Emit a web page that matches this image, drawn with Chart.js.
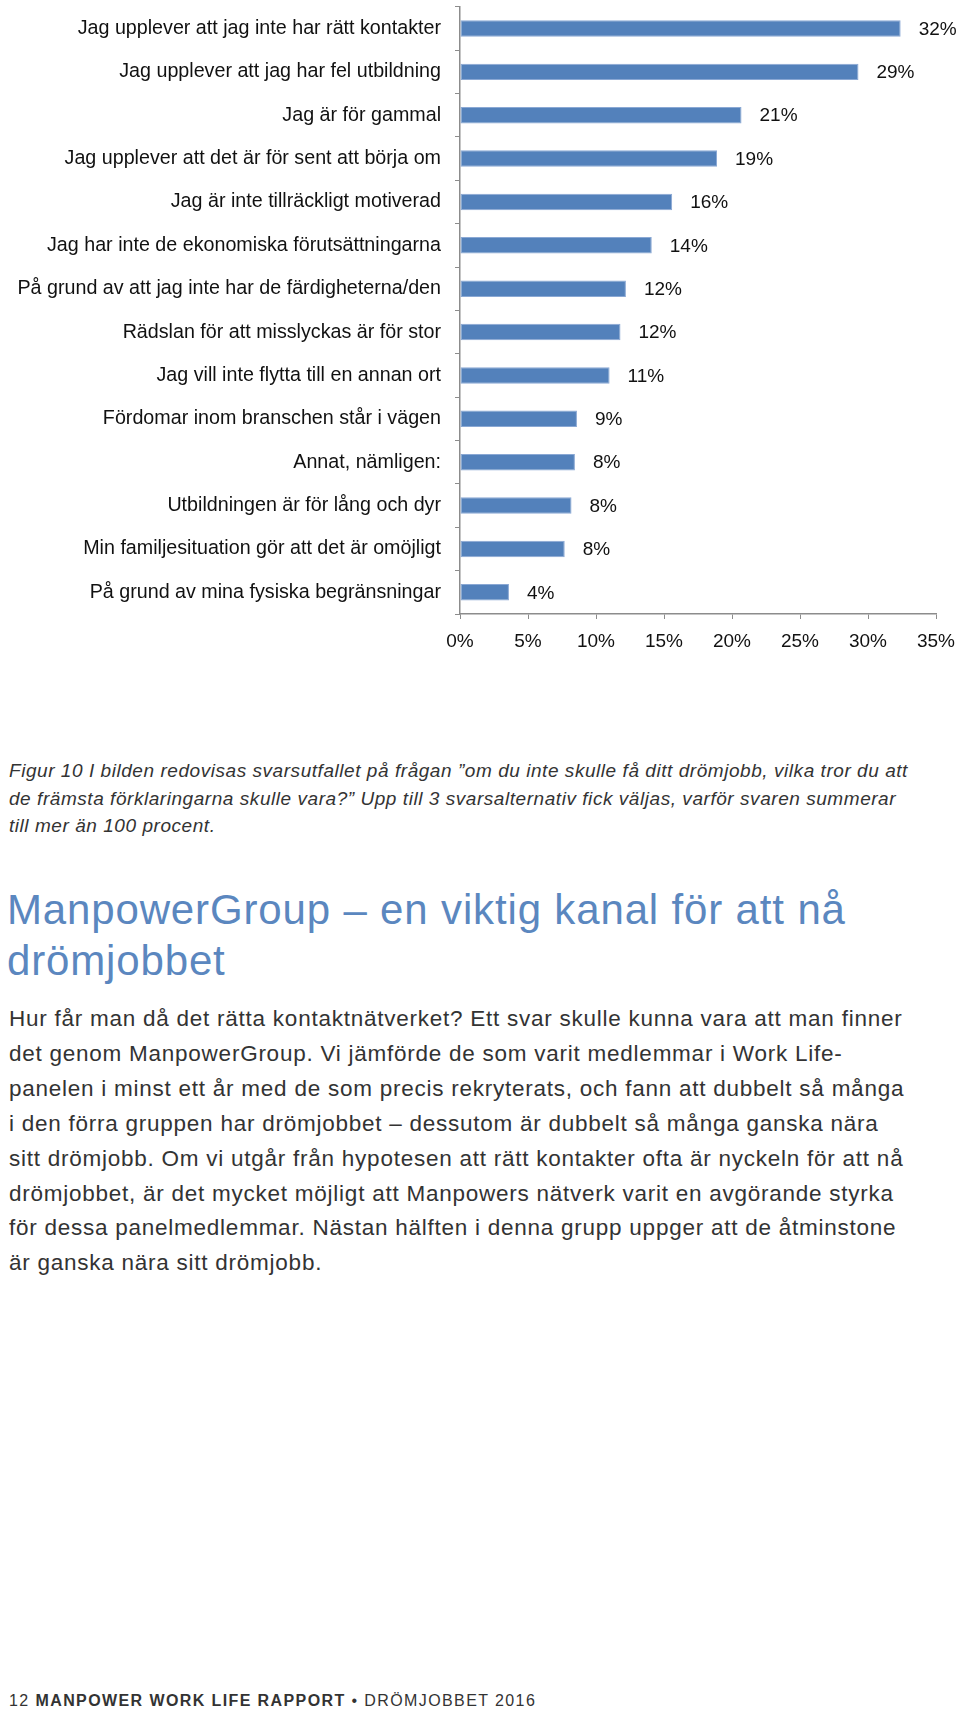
<!DOCTYPE html>
<html>
<head>
<meta charset="utf-8">
<script src="https://cdn.jsdelivr.net/npm/chart.js@4.4.1/dist/chart.umd.min.js"></script>
<style>
    body { margin: 0; background: #fff; font-family: "Liberation Sans", Arial, sans-serif; color: #333; }
    .page { position: relative; width: 960px; height: 1710px; overflow: hidden; }
    .chart-box { position: absolute; left: 0; top: -19px; width: 960px; height: 679px; }
    .caption { position: absolute; left: 9px; top: 757px; font-size: 19px; line-height: 27.5px; font-style: italic; color: #333; white-space: nowrap; letter-spacing: 0.55px; }
    .heading { position: absolute; left: 7px; top: 884px; font-size: 42px; line-height: 51px; color: #5b87bf; white-space: nowrap; letter-spacing: 0.85px; }
    .body-text { position: absolute; left: 9px; top: 1002px; font-size: 22.5px; line-height: 34.9px; color: #333; white-space: nowrap; letter-spacing: 0.75px; }
    .footer { position: absolute; left: 9px; top: 1691px; font-size: 16px; line-height: 20px; color: #333; letter-spacing: 1.4px; white-space: nowrap; }
    .footer b { font-weight: bold; }
</style>
</head>
<body>
<div class="page">
    <div class="chart-box"><canvas id="reasonChart"></canvas></div>

    <div class="caption">
        Figur 10 I bilden redovisas svarsutfallet på frågan ”om du inte skulle få ditt drömjobb, vilka tror du att<br>
        de främsta förklaringarna skulle vara?” Upp till 3 svarsalternativ fick väljas, varför svaren summerar<br>
        till mer än 100 procent.
    </div>

    <div class="heading">
        ManpowerGroup – en viktig kanal för att nå<br>
        drömjobbet
    </div>

    <div class="body-text">
        Hur får man då det rätta kontaktnätverket? Ett svar skulle kunna vara att man finner<br>
        det genom ManpowerGroup. Vi jämförde de som varit medlemmar i Work Life-<br>
        panelen i minst ett år med de som precis rekryterats, och fann att dubbelt så många<br>
        i den förra gruppen har drömjobbet – dessutom är dubbelt så många ganska nära<br>
        sitt drömjobb. Om vi utgår från hypotesen att rätt kontakter ofta är nyckeln för att nå<br>
        drömjobbet, är det mycket möjligt att Manpowers nätverk varit en avgörande styrka<br>
        för dessa panelmedlemmar. Nästan hälften i denna grupp uppger att de åtminstone<br>
        är ganska nära sitt drömjobb.
    </div>

    <div class="footer">12 <b>MANPOWER WORK LIFE RAPPORT</b> • DRÖMJOBBET 2016</div>
</div>

<script>
// Reasons, top to bottom as in the figure
const reasons = [
    'Jag upplever att jag inte har rätt kontakter',
    'Jag upplever att jag har fel utbildning',
    'Jag är för gammal',
    'Jag upplever att det är för sent att börja om',
    'Jag är inte tillräckligt motiverad',
    'Jag har inte de ekonomiska förutsättningarna',
    'På grund av att jag inte har de färdigheterna/den',
    'Rädslan för att misslyckas är för stor',
    'Jag vill inte flytta till en annan ort',
    'Fördomar inom branschen står i vägen',
    'Annat, nämligen:',
    'Utbildningen är för lång och dyr',
    'Min familjesituation gör att det är omöjligt',
    'På grund av mina fysiska begränsningar'
];

// Share of respondents (%)
const shares = [32.4, 29.3, 20.7, 18.9, 15.6, 14.1, 12.2, 11.8, 11.0, 8.6, 8.45, 8.2, 7.7, 3.6];

// x axis ticks
const xTicks = [0, 5, 10, 15, 20, 25, 30, 35];

const axisGrey = '#8c8c8c';
const fontFamily = '"Liberation Sans", Arial, sans-serif';

// draws "32%" etc. to the right of each bar
const valueLabels = {
    id: 'valueLabels',
    afterDatasetsDraw(chart) {
        const ctx = chart.ctx;
        const meta = chart.getDatasetMeta(0);
        ctx.save();
        ctx.font = '19px ' + fontFamily;
        ctx.fillStyle = '#111';
        ctx.textAlign = 'left';
        ctx.textBaseline = 'middle';
        meta.data.forEach((bar, i) => {
            ctx.fillText(Math.round(shares[i]) + '%', bar.x + 18, bar.y + 1);
        });
        ctx.restore();
    }
};

new Chart(document.getElementById('reasonChart'), {
    type: 'bar',
    data: {
        labels: reasons,
        datasets: [{
            data: shares,
            backgroundColor: '#5381bb',
            borderColor: '#8aa8d4',
            borderWidth: 1,
            borderSkipped: false,
            barPercentage: 0.38,
            categoryPercentage: 1
        }]
    },
    options: {
        indexAxis: 'y',
        responsive: true,
        maintainAspectRatio: false,
        animation: false,
        layout: { padding: { top: 4, right: 24, left: 0, bottom: 0 } },
        plugins: {
            legend: { display: false },
            tooltip: { enabled: false }
        },
        scales: {
            x: {
                min: 0,
                max: 35,
                afterBuildTicks: (scale) => {
                    scale.ticks = xTicks.map(v => ({ value: v }));
                },
                afterFit: (scale) => {
                    scale.height = 46;
                    // let the layout padding decide where the axis ends
                    scale.paddingRight = 0;
                },
                grid: { drawOnChartArea: false, tickLength: 5, color: axisGrey },
                border: { color: axisGrey, width: 1.5 },
                ticks: {
                    color: '#111',
                    font: { family: fontFamily, size: 19 },
                    padding: 11,
                    callback: v => v + '%'
                }
            },
            y: {
                afterFit: (scale) => { scale.width = 460; },
                grid: { drawOnChartArea: false, tickLength: 5, color: axisGrey },
                border: { color: axisGrey, width: 1.5 },
                ticks: {
                    color: '#111',
                    font: { family: fontFamily, size: 19.7 },
                    padding: 14,
                    autoSkip: false
                }
            }
        }
    },
    plugins: [valueLabels]
});
</script>
</body>
</html>
